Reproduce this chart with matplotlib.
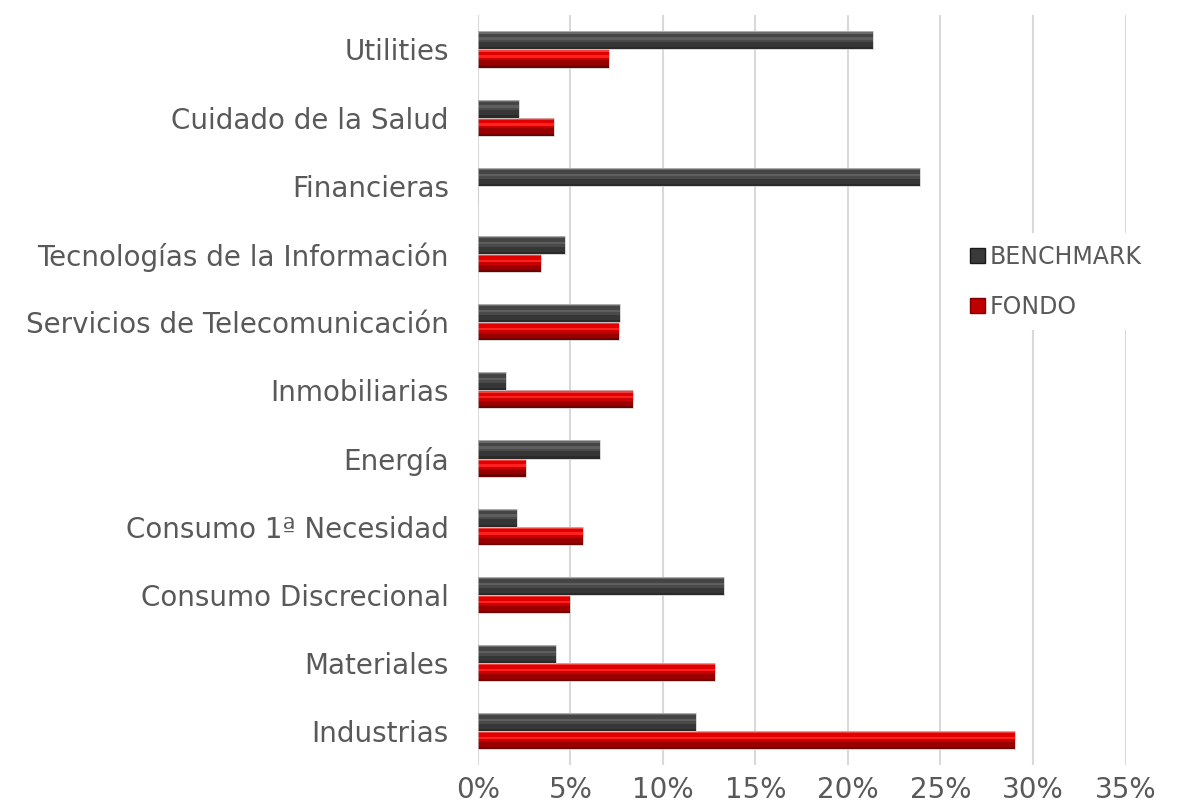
import matplotlib.pyplot as plt
import numpy as np
from matplotlib.patches import Rectangle
from matplotlib.ticker import FuncFormatter, MultipleLocator

# Data (percent), bottom to top
categorias = [
    "Industrias", "Materiales", "Consumo Discrecional", "Consumo 1ª Necesidad",
    "Energía", "Inmobiliarias", "Servicios de Telecomunicación",
    "Tecnologías de la Información", "Financieras", "Cuidado de la Salud", "Utilities",
]
benchmark = [11.8, 4.2, 13.3, 2.1, 6.6, 1.5, 7.7, 4.7, 23.9, 2.2, 21.35]
fondo = [29.0, 12.8, 5.0, 5.7, 2.6, 8.4, 7.6, 3.4, 0.0, 4.1, 7.1]

# bevel layers: (fraction start from bottom, fraction end, color)
capas_bench = [(0.0, 0.12, "#2a2a2a"), (0.12, 0.4, "#363636"), (0.4, 0.55, "#4a4a4a"),
               (0.55, 0.68, "#5e5e5e"), (0.68, 0.88, "#454545"), (0.88, 1.0, "#6a6a6a")]
capas_fondo = [(0.0, 0.12, "#6e0000"), (0.12, 0.4, "#9a0000"), (0.4, 0.55, "#c80000"),
               (0.55, 0.68, "#ff2020"), (0.68, 0.88, "#e00000"), (0.88, 1.0, "#f04040")]

fig = plt.figure(figsize=(11.86, 8.09), dpi=100)
ax = fig.add_axes([0.403, 0.054, 0.546, 0.927])

y = np.arange(len(categorias))
h = 0.265


def bar_bevel(ax, ys, vals, capas):
    for a, b, c in capas:
        ax.barh(ys - h / 2 + h * (a + b) / 2, vals, height=h * (b - a), left=0,
                color=c, linewidth=0, zorder=3)
    # thin light outline
    ax.barh(ys, vals, height=h, left=0, facecolor="none",
            edgecolor="#c8c8c8", linewidth=0.5, zorder=4)


bar_bevel(ax, y + h / 2, np.array(benchmark), capas_bench)
bar_bevel(ax, y - h / 2, np.array(fondo), capas_fondo)

ax.set_xlim(0, 35)
ax.set_ylim(-0.5, len(categorias) - 0.5)
ax.xaxis.set_major_locator(MultipleLocator(5))
ax.xaxis.set_major_formatter(FuncFormatter(lambda v, p: f"{v:.0f}%"))
ax.set_yticks(y)
ax.set_yticklabels(categorias)
ax.grid(axis="x", color="#d9d9d9", linewidth=1.5, zorder=0)
ax.set_axisbelow(True)
for s in ax.spines.values():
    s.set_visible(False)
ax.tick_params(axis="both", length=0, labelsize=20, labelcolor="#595959")
ax.tick_params(axis="y", pad=21)
ax.tick_params(axis="x", pad=8)

handles = [Rectangle((0, 0), 1, 1, facecolor="#3a3a3a", edgecolor="#1a1a1a"),
           Rectangle((0, 0), 1, 1, facecolor="#c00000", edgecolor="#7a0000")]
leg = ax.legend(handles, ["BENCHMARK", "FONDO"], loc="center left",
                bbox_to_anchor=(0.724, 0.645), frameon=True, fontsize=17,
                handlelength=0.6, handleheight=0.6, handletextpad=0.2,
                labelspacing=1.1, borderpad=0.5, labelcolor="#595959")
leg.get_frame().set_facecolor("white")
leg.get_frame().set_edgecolor("none")
leg.get_frame().set_alpha(1)

fig.savefig("out.png", dpi=100, facecolor="white")
